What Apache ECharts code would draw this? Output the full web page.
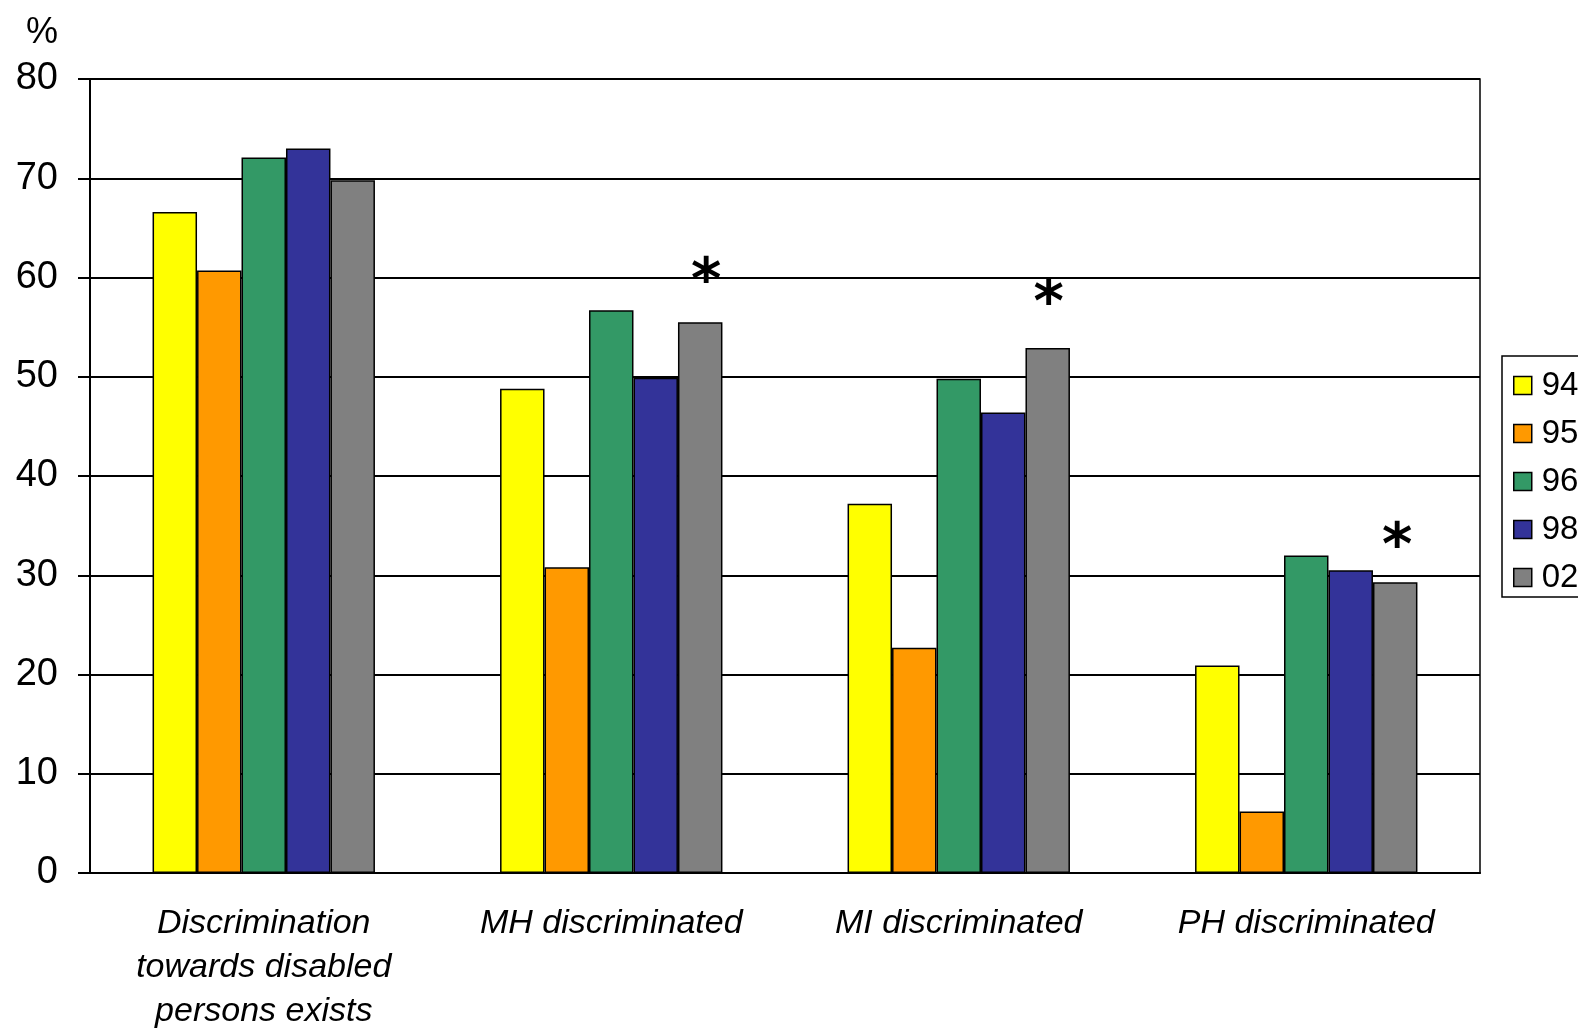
<!DOCTYPE html>
<html>
<head>
<meta charset="utf-8">
<script src="https://cdn.jsdelivr.net/npm/echarts@6/dist/echarts.min.js"></script>
<style>html,body{margin:0;padding:0;background:#fff;}#c{width:1578px;height:1028px;}</style>
</head>
<body>
<div id="c"></div>
<script>
const categories = ['Discrimination\ntowards disabled\npersons exists', 'MH discriminated', 'MI discriminated', 'PH discriminated'];
const seriesNames = ['94', '95', '96', '98', '02'];
const s94 = [66.6, 48.8, 37.2, 20.9];
const s95 = [60.7, 30.8, 22.7, 6.2];
const s96 = [72.1, 56.7, 49.8, 32.0];
const s98 = [73.0, 49.9, 46.4, 30.5];
const s02 = [69.8, 55.5, 52.9, 29.3];
const marks02 = ['', '*', '*', '*'];
const yTicks = [0, 10, 20, 30, 40, 50, 60, 70, 80];
const colors = ['#FFFF00', '#FF9900', '#339966', '#333399', '#808080'];

const allData = [s94, s95, s96, s98, s02];
const FONT = '"Liberation Sans", Arial, sans-serif';
const markDist = [0, 38, 42, 33];
const markDx = [0, 6, 1, 2];

const series = allData.map((d, i) => ({
  name: seriesNames[i],
  type: 'bar',
  data: d.map((v, j) => {
    const item = { value: v };
    if (i === 4 && marks02[j]) {
      item.label = {
        show: true, position: 'top', distance: markDist[j], offset: [markDx[j], 0],
        verticalAlign: 'middle', lineHeight: 56,
        formatter: marks02[j], color: '#000', fontSize: 58, fontWeight: 'bold', fontFamily: '"DejaVu Sans"'
      };
    }
    return item;
  }),
  barGap: '0%',
  barCategoryGap: '36%',
  itemStyle: { color: colors[i], borderColor: '#000', borderWidth: 1.5 }
}));

const chart = echarts.init(document.getElementById('c'));
chart.setOption({
  backgroundColor: '#fff',
  animation: false,
  textStyle: { fontFamily: FONT },
  grid: { left: 90, right: 98, top: 79, bottom: 155, show: true, borderColor: '#000', borderWidth: 1.5, containLabel: false, outerBoundsMode: 'none' },
  legend: {
    orient: 'vertical', left: 1502, top: 356,
    data: seriesNames,
    itemWidth: 18, itemHeight: 18, itemGap: 15,
    padding: [13, 40, 3, 11],
    borderColor: '#000', borderWidth: 1.5,
    icon: 'rect',
    itemStyle: { borderColor: '#000', borderWidth: 1.5 },
    textStyle: { fontSize: 33, color: '#000', lineHeight: 32, fontFamily: FONT, padding: [0, 0, 0, 5] }
  },
  xAxis: {
    type: 'category', data: categories,
    axisLine: { show: true, lineStyle: { color: '#000', width: 2 } },
    axisTick: { show: false },
    axisLabel: { interval: 0, fontSize: 34, fontStyle: 'italic', color: '#000', lineHeight: 44, margin: 29, fontFamily: FONT }
  },
  yAxis: {
    type: 'value', min: yTicks[0], max: yTicks[yTicks.length - 1], interval: 10,
    name: '%', nameLocation: 'end', nameGap: 28,
    nameTextStyle: { fontSize: 36, color: '#000', align: 'right', padding: [0, 32, 0, 0], fontFamily: FONT },
    axisLine: { show: true, lineStyle: { color: '#000', width: 2 } },
    axisTick: { show: true, inside: false, length: 12, lineStyle: { color: '#000', width: 2 } },
    axisLabel: { fontSize: 38, color: '#000', margin: 32, fontFamily: FONT },
    splitLine: { show: true, lineStyle: { color: '#000', width: 2 } }
  },
  series: series
});
</script>
</body>
</html>
